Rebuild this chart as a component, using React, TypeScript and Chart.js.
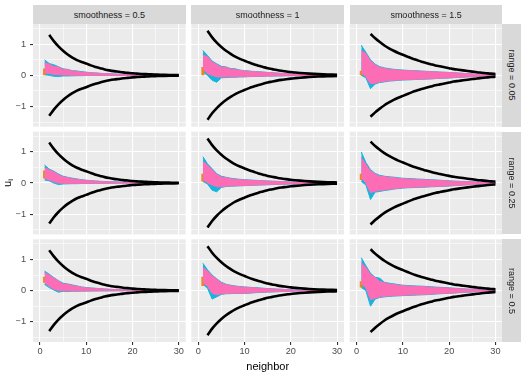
import React, { useEffect, useRef } from "react";
import { Chart, registerables } from "chart.js";
Chart.register(...registerables);

// ---------- data ----------
const colLabels = ["smoothness = 0.5", "smoothness = 1", "smoothness = 1.5"];
const rowLabels = ["range = 0.05", "range = 0.25", "range = 0.5"];
const xTicks = [0, 5, 10, 15, 20, 25, 30];
const yTicks = [-1.5, -1, -0.5, 0, 0.5, 1, 1.5];
const neighbor = [1, 2, 3, 4, 5, 6, 7, 8, 9, 10, 11, 12, 13, 14, 15, 16, 17, 18, 19, 20, 21, 22, 23, 24, 25, 26, 27, 28, 29, 30];

// black bounds (upper), per smoothness column
const boundX12 = [2, 3, 4, 5, 6, 7, 8, 9, 10, 11, 12, 13, 14, 15, 16, 17, 18, 19, 20, 21, 22, 23, 24, 25, 26, 27, 28, 29, 30];
const boundX3 = [3, 4, 5, 6, 7, 8, 9, 10, 11, 12, 13, 14, 15, 16, 17, 18, 19, 20, 21, 22, 23, 24, 25, 26, 27, 28, 29, 30];
const boundS05 = [1.30, 1.10, 0.93, 0.79, 0.67, 0.57, 0.49, 0.43, 0.38, 0.32, 0.27, 0.23, 0.19, 0.16, 0.135, 0.115, 0.095, 0.08, 0.065, 0.055, 0.045, 0.038, 0.03, 0.025, 0.02, 0.016, 0.013, 0.01, 0.008];
const boundS1 = [1.43, 1.22, 1.05, 0.91, 0.79, 0.69, 0.60, 0.53, 0.47, 0.41, 0.36, 0.31, 0.27, 0.23, 0.20, 0.17, 0.145, 0.125, 0.105, 0.09, 0.077, 0.065, 0.055, 0.046, 0.039, 0.033, 0.028, 0.024, 0.02];
const boundS15 = [1.33, 1.19, 1.07, 0.96, 0.87, 0.79, 0.72, 0.66, 0.60, 0.54, 0.49, 0.44, 0.40, 0.36, 0.32, 0.29, 0.26, 0.23, 0.20, 0.18, 0.16, 0.14, 0.12, 0.10, 0.085, 0.07, 0.055, 0.045];

// u_i envelopes per panel (row = range, col = smoothness)
const pinkHi11 = [0.40, 0.36, 0.28, 0.27, 0.18, 0.19, 0.13, 0.13, 0.10, 0.10, 0.075, 0.075, 0.06, 0.055, 0.05, 0.04, 0.035, 0.03, 0.025, 0.02, 0.015, 0.012, 0.01, 0.008, 0.006, 0.005, 0.004, 0.003, 0.002, 0.002];
const pinkLo11 = [0.08, 0.06, 0.03, 0.02, 0.01, 0.01, 0.005, 0.005, 0, 0, 0, 0, 0, 0, 0, 0, 0, 0, 0, 0, 0, 0, 0, 0, 0, 0, 0, 0, 0, 0];
const cyanHi11 = [0.50, 0.38, 0.34, 0.28, 0.21, 0.19, 0.15, 0.14, 0.12, 0.10, 0.085, 0.078, 0.065, 0.058, 0.052, 0.043, 0.037, 0.032, 0.026, 0.021, 0.016, 0.013, 0.01, 0.008, 0.006, 0.005, 0.004, 0.003, 0.002, 0.002];
const cyanLo11 = [0.02, 0.0, -0.03, -0.04, -0.02, -0.02, -0.015, -0.01, -0.01, -0.005, -0.004, -0.003, -0.002, -0.001, 0, 0, 0, 0, 0, 0, 0, 0, 0, 0, 0, 0, 0, 0, 0, 0];
const orange11 = [0.0, 0.22];

const pinkHi12 = [0.65, 0.60, 0.43, 0.35, 0.26, 0.26, 0.20, 0.20, 0.15, 0.145, 0.125, 0.12, 0.105, 0.10, 0.09, 0.08, 0.07, 0.06, 0.05, 0.045, 0.04, 0.035, 0.03, 0.025, 0.02, 0.015, 0.012, 0.01, 0.008, 0.005];
const pinkLo12 = [0.22, 0.05, 0.0, -0.05, -0.05, -0.05, -0.045, -0.05, -0.04, -0.04, -0.035, -0.03, -0.03, -0.025, -0.02, -0.02, -0.015, -0.015, -0.01, -0.01, -0.008, -0.006, -0.005, -0.004, -0.003, -0.002, -0.002, -0.001, -0.001, 0];
const cyanHi12 = [0.80, 0.64, 0.46, 0.37, 0.29, 0.27, 0.22, 0.21, 0.17, 0.15, 0.14, 0.125, 0.115, 0.105, 0.095, 0.085, 0.074, 0.064, 0.054, 0.048, 0.042, 0.037, 0.032, 0.026, 0.021, 0.016, 0.013, 0.011, 0.009, 0.006];
const cyanLo12 = [0.10, 0.0, -0.16, -0.22, -0.08, -0.07, -0.06, -0.06, -0.05, -0.05, -0.04, -0.035, -0.035, -0.03, -0.024, -0.023, -0.018, -0.017, -0.012, -0.011, -0.009, -0.007, -0.006, -0.005, -0.004, -0.003, -0.002, -0.002, -0.001, -0.001];
const orange12 = [0.0, 0.27];

const pinkHi13 = [0.80, 0.70, 0.46, 0.34, 0.25, 0.23, 0.19, 0.185, 0.165, 0.16, 0.145, 0.145, 0.135, 0.13, 0.12, 0.115, 0.105, 0.10, 0.095, 0.09, 0.08, 0.07, 0.06, 0.05, 0.045, 0.035, 0.03, 0.02, 0.015, 0.01];
const pinkLo13 = [0.10, -0.05, -0.27, -0.25, -0.21, -0.19, -0.17, -0.16, -0.15, -0.14, -0.135, -0.13, -0.125, -0.12, -0.115, -0.11, -0.10, -0.09, -0.085, -0.08, -0.07, -0.06, -0.055, -0.045, -0.04, -0.03, -0.025, -0.02, -0.015, -0.01];
const cyanHi13 = [0.97, 0.74, 0.50, 0.36, 0.28, 0.24, 0.215, 0.195, 0.18, 0.17, 0.16, 0.15, 0.147, 0.137, 0.132, 0.122, 0.115, 0.105, 0.10, 0.095, 0.085, 0.075, 0.064, 0.054, 0.048, 0.038, 0.032, 0.022, 0.017, 0.011];
const cyanLo13 = [0.0, -0.08, -0.43, -0.28, -0.23, -0.21, -0.185, -0.175, -0.16, -0.15, -0.145, -0.14, -0.13, -0.127, -0.12, -0.115, -0.105, -0.095, -0.09, -0.085, -0.075, -0.065, -0.058, -0.048, -0.042, -0.032, -0.027, -0.021, -0.016, -0.011];
const orange13 = [0.0, 0.15];

const pinkHi21 = [0.50, 0.42, 0.36, 0.27, 0.20, 0.18, 0.13, 0.125, 0.095, 0.085, 0.07, 0.062, 0.05, 0.045, 0.04, 0.035, 0.03, 0.025, 0.02, 0.015, 0.012, 0.01, 0.008, 0.006, 0.005, 0.004, 0.003, 0.002, 0.002, 0.001];
const pinkLo21 = [0.15, 0.10, 0.04, 0.0, -0.01, -0.01, -0.01, -0.01, -0.01, -0.01, -0.008, -0.006, -0.005, -0.004, -0.003, -0.002, -0.002, -0.001, -0.001, 0, 0, 0, 0, 0, 0, 0, 0, 0, 0, 0];
const cyanHi21 = [0.58, 0.45, 0.38, 0.29, 0.22, 0.185, 0.155, 0.13, 0.11, 0.09, 0.078, 0.067, 0.057, 0.05, 0.045, 0.038, 0.032, 0.027, 0.022, 0.017, 0.013, 0.011, 0.009, 0.007, 0.005, 0.004, 0.003, 0.002, 0.002, 0.001];
const cyanLo21 = [0.10, 0.07, 0.0, -0.05, -0.03, -0.025, -0.02, -0.02, -0.015, -0.015, -0.012, -0.009, -0.007, -0.005, -0.004, -0.003, -0.002, -0.001, -0.001, 0, 0, 0, 0, 0, 0, 0, 0, 0, 0, 0];
const orange21 = [0.15, 0.4];

const pinkHi22 = [0.69, 0.58, 0.42, 0.28, 0.19, 0.175, 0.135, 0.125, 0.105, 0.10, 0.09, 0.08, 0.075, 0.07, 0.06, 0.055, 0.05, 0.04, 0.035, 0.03, 0.025, 0.02, 0.015, 0.012, 0.01, 0.008, 0.006, 0.004, 0.003, 0.002];
const pinkLo22 = [0.12, 0.0, -0.06, -0.12, -0.12, -0.10, -0.09, -0.09, -0.08, -0.08, -0.07, -0.065, -0.06, -0.055, -0.05, -0.045, -0.04, -0.035, -0.03, -0.025, -0.02, -0.015, -0.012, -0.01, -0.008, -0.006, -0.004, -0.003, -0.002, -0.001];
const cyanHi22 = [0.85, 0.62, 0.46, 0.30, 0.22, 0.185, 0.155, 0.135, 0.12, 0.11, 0.10, 0.09, 0.082, 0.075, 0.067, 0.06, 0.055, 0.045, 0.04, 0.034, 0.028, 0.022, 0.017, 0.014, 0.011, 0.009, 0.007, 0.005, 0.0035, 0.0025];
const cyanLo22 = [0.05, -0.03, -0.23, -0.28, -0.14, -0.11, -0.10, -0.095, -0.088, -0.085, -0.075, -0.07, -0.065, -0.06, -0.055, -0.05, -0.045, -0.04, -0.035, -0.028, -0.022, -0.017, -0.014, -0.011, -0.009, -0.007, -0.005, -0.0035, -0.0025, -0.0015];
const orange22 = [0.05, 0.3];

const pinkHi23 = [0.82, 0.60, 0.39, 0.29, 0.22, 0.21, 0.18, 0.175, 0.15, 0.145, 0.125, 0.13, 0.11, 0.115, 0.10, 0.095, 0.09, 0.08, 0.07, 0.06, 0.055, 0.05, 0.045, 0.04, 0.035, 0.03, 0.02, 0.015, 0.01, 0.008];
const pinkLo23 = [0.17, 0.0, -0.31, -0.26, -0.24, -0.22, -0.20, -0.18, -0.165, -0.15, -0.14, -0.135, -0.13, -0.125, -0.12, -0.11, -0.105, -0.10, -0.095, -0.09, -0.08, -0.07, -0.06, -0.05, -0.045, -0.035, -0.03, -0.02, -0.015, -0.01];
const cyanHi23 = [1.0, 0.66, 0.43, 0.31, 0.25, 0.22, 0.20, 0.19, 0.17, 0.155, 0.145, 0.14, 0.13, 0.125, 0.115, 0.107, 0.10, 0.09, 0.08, 0.07, 0.062, 0.057, 0.052, 0.045, 0.04, 0.035, 0.025, 0.018, 0.012, 0.009];
const cyanLo23 = [0.05, -0.06, -0.53, -0.29, -0.27, -0.24, -0.22, -0.195, -0.178, -0.163, -0.152, -0.147, -0.14, -0.135, -0.13, -0.12, -0.115, -0.11, -0.103, -0.095, -0.085, -0.075, -0.065, -0.055, -0.05, -0.04, -0.032, -0.022, -0.017, -0.011];
const orange23 = [0.1, 0.3];

const pinkHi31 = [0.58, 0.50, 0.40, 0.31, 0.21, 0.21, 0.16, 0.145, 0.105, 0.095, 0.075, 0.072, 0.06, 0.05, 0.04, 0.035, 0.03, 0.025, 0.02, 0.015, 0.012, 0.01, 0.008, 0.006, 0.005, 0.004, 0.003, 0.002, 0.002, 0.001];
const pinkLo31 = [0.25, 0.14, 0.05, 0.0, 0.0, -0.01, -0.01, -0.01, -0.01, -0.01, -0.008, -0.006, -0.005, -0.004, -0.003, -0.002, -0.002, -0.001, -0.001, 0, 0, 0, 0, 0, 0, 0, 0, 0, 0, 0];
const cyanHi31 = [0.63, 0.53, 0.42, 0.32, 0.24, 0.215, 0.185, 0.15, 0.12, 0.10, 0.088, 0.075, 0.065, 0.055, 0.045, 0.038, 0.032, 0.027, 0.022, 0.017, 0.014, 0.011, 0.009, 0.007, 0.0055, 0.0045, 0.0035, 0.0025, 0.002, 0.0015];
const cyanLo31 = [0.20, 0.10, 0.02, -0.05, -0.02, -0.03, -0.02, -0.02, -0.015, -0.015, -0.012, -0.009, -0.007, -0.006, -0.005, -0.004, -0.003, -0.002, -0.001, -0.001, 0, 0, 0, 0, 0, 0, 0, 0, 0, 0];
const orange31 = [0.25, 0.45];

const pinkHi32 = [0.74, 0.63, 0.47, 0.37, 0.24, 0.20, 0.155, 0.145, 0.115, 0.115, 0.095, 0.095, 0.075, 0.072, 0.06, 0.05, 0.045, 0.04, 0.03, 0.025, 0.02, 0.015, 0.012, 0.01, 0.008, 0.006, 0.004, 0.003, 0.002, 0.001];
const pinkLo32 = [0.27, 0.14, -0.08, -0.13, -0.10, -0.09, -0.08, -0.08, -0.08, -0.08, -0.07, -0.06, -0.05, -0.045, -0.04, -0.035, -0.03, -0.025, -0.02, -0.015, -0.012, -0.01, -0.008, -0.006, -0.005, -0.004, -0.003, -0.002, -0.001, 0];
const cyanHi32 = [0.88, 0.67, 0.50, 0.38, 0.27, 0.205, 0.175, 0.15, 0.13, 0.12, 0.11, 0.10, 0.09, 0.078, 0.068, 0.058, 0.05, 0.045, 0.035, 0.03, 0.025, 0.018, 0.015, 0.012, 0.009, 0.007, 0.005, 0.0035, 0.0025, 0.0015];
const cyanLo32 = [0.20, 0.08, -0.27, -0.20, -0.12, -0.10, -0.095, -0.09, -0.09, -0.088, -0.08, -0.07, -0.06, -0.052, -0.047, -0.042, -0.035, -0.03, -0.025, -0.018, -0.015, -0.012, -0.0095, -0.0075, -0.006, -0.0045, -0.0035, -0.0025, -0.0015, -0.0005];
const orange32 = [0.15, 0.45];

const pinkHi33 = [0.90, 0.74, 0.52, 0.42, 0.29, 0.26, 0.21, 0.205, 0.17, 0.165, 0.145, 0.145, 0.13, 0.135, 0.12, 0.11, 0.10, 0.095, 0.09, 0.08, 0.07, 0.06, 0.05, 0.045, 0.04, 0.03, 0.025, 0.02, 0.015, 0.01];
const pinkLo33 = [0.25, 0.09, -0.29, -0.24, -0.20, -0.18, -0.17, -0.16, -0.155, -0.15, -0.14, -0.135, -0.13, -0.125, -0.12, -0.11, -0.10, -0.09, -0.085, -0.08, -0.07, -0.06, -0.05, -0.045, -0.04, -0.03, -0.025, -0.02, -0.015, -0.01];
const cyanHi33 = [1.06, 0.80, 0.56, 0.43, 0.40, 0.27, 0.24, 0.22, 0.195, 0.175, 0.165, 0.155, 0.15, 0.145, 0.135, 0.125, 0.115, 0.107, 0.10, 0.09, 0.08, 0.07, 0.06, 0.052, 0.045, 0.035, 0.03, 0.024, 0.017, 0.011];
const cyanLo33 = [0.10, 0.0, -0.50, -0.27, -0.22, -0.20, -0.185, -0.175, -0.168, -0.16, -0.152, -0.147, -0.14, -0.135, -0.13, -0.12, -0.11, -0.10, -0.092, -0.087, -0.077, -0.067, -0.057, -0.05, -0.045, -0.035, -0.03, -0.022, -0.017, -0.011];
const orange33 = [0.1, 0.3];

const bounds = [
  { x: boundX12, y: boundS05 },
  { x: boundX12, y: boundS1 },
  { x: boundX3, y: boundS15 },
];
const panelData = [
  [
    { ph: pinkHi11, pl: pinkLo11, ch: cyanHi11, cl: cyanLo11, or: orange11 },
    { ph: pinkHi12, pl: pinkLo12, ch: cyanHi12, cl: cyanLo12, or: orange12 },
    { ph: pinkHi13, pl: pinkLo13, ch: cyanHi13, cl: cyanLo13, or: orange13 },
  ],
  [
    { ph: pinkHi21, pl: pinkLo21, ch: cyanHi21, cl: cyanLo21, or: orange21 },
    { ph: pinkHi22, pl: pinkLo22, ch: cyanHi22, cl: cyanLo22, or: orange22 },
    { ph: pinkHi23, pl: pinkLo23, ch: cyanHi23, cl: cyanLo23, or: orange23 },
  ],
  [
    { ph: pinkHi31, pl: pinkLo31, ch: cyanHi31, cl: cyanLo31, or: orange31 },
    { ph: pinkHi32, pl: pinkLo32, ch: cyanHi32, cl: cyanLo32, or: orange32 },
    { ph: pinkHi33, pl: pinkLo33, ch: cyanHi33, cl: cyanLo33, or: orange33 },
  ],
];

// ---------- layout ----------
const W = 527, H = 376;
const COL_LEFT = [33, 191.3, 349.7];
const ROW_TOP = [24, 131.7, 239.3];
const PW = 152.7, PH = 102.7;
const YW = 33, XH = 16;
const FONT = "'Liberation Sans', Arial, Helvetica, sans-serif";
const PINK = "#FC6DB6";
const CYAN = "#14B6E0";
const ORANGE = "#E8891E";

Chart.defaults.font.family = FONT;

const bgPlugin = {
  id: "panelBg",
  beforeDraw(chart: any) {
    const { ctx, chartArea: a } = chart;
    ctx.save();
    ctx.fillStyle = "#EBEBEB";
    ctx.fillRect(a.left, a.top, a.right - a.left, a.bottom - a.top);
    ctx.restore();
  },
};

const pts = (xs: number[], ys: number[]) => xs.map((x, i) => ({ x, y: ys[i] }));
const neg = (ys: number[]) => ys.map((v) => -v);

function Panel({ r, c }: { r: number; c: number }) {
  const ref = useRef<HTMLCanvasElement>(null);
  useEffect(() => {
    const isLeft = c === 0;
    const isBottom = r === 2;
    const left = COL_LEFT[c];
    const top = ROW_TOP[r];
    const d = panelData[r][c];
    const b = bounds[c];
    const line = (data: any[], color: string, width: number, order: number, fill: any = false, bg = color) => ({
      data,
      borderColor: color,
      backgroundColor: bg,
      borderWidth: width,
      pointRadius: 0,
      fill,
      order,
      tension: 0,
    });
    const datasets = [
      { ...line(pts(b.x, b.y), "#000000", 2.6, 0), cubicInterpolationMode: "monotone" },
      { ...line(pts(b.x, neg(b.y)), "#000000", 2.6, 0), cubicInterpolationMode: "monotone" },
      line(pts(neighbor, d.ph), PINK, 1, 1, "+1"),
      line(pts(neighbor, d.pl), PINK, 1, 1),
      line([{ x: 1, y: d.or[0] }, { x: 1, y: d.or[1] }], ORANGE, 3, 2),
      line(pts(neighbor, d.ch), CYAN, 1, 3, "+1"),
      line(pts(neighbor, d.cl), CYAN, 1, 3),
    ];
    const chart = new Chart(ref.current as HTMLCanvasElement, {
      type: "line",
      data: { datasets } as any,
      plugins: [bgPlugin],
      options: {
        animation: false,
        responsive: false,
        devicePixelRatio: 1,
        events: [],
        layout: {
          padding: {
            left: left - YW,
            top: top,
            right: W - left - PW,
            bottom: H - top - PH - XH,
          },
        },
        plugins: { legend: { display: false }, tooltip: { enabled: false } },
        scales: {
          x: {
            type: "linear",
            min: -1.5,
            max: 31.5,
            afterFit: (s: any) => { s.height = XH; },
            afterBuildTicks: (s: any) => { s.ticks = xTicks.map((v) => ({ value: v })); },
            border: { display: false },
            grid: {
              color: "#FFFFFF",
              lineWidth: (ctx: any) => (ctx.tick && ctx.tick.value % 10 === 0 ? 1.1 : 0.55),
              drawTicks: true,
              tickLength: 3,
              tickWidth: 1.1,
              tickColor: (ctx: any) => (isBottom && ctx.tick && ctx.tick.value % 10 === 0 ? "#333333" : "rgba(0,0,0,0)"),
            },
            ticks: {
              display: isBottom,
              autoSkip: false,
              maxRotation: 0,
              minRotation: 0,
              padding: 1,
              color: "#4D4D4D",
              font: { family: FONT, size: 9.2 },
              callback: (v: any) => (v % 10 === 0 ? String(v) : ""),
            },
          },
          y: {
            type: "linear",
            min: -1.65,
            max: 1.65,
            afterFit: (s: any) => { s.width = YW; },
            afterBuildTicks: (s: any) => { s.ticks = yTicks.map((v) => ({ value: v })); },
            border: { display: false },
            grid: {
              color: "#FFFFFF",
              lineWidth: (ctx: any) => (ctx.tick && Number.isInteger(ctx.tick.value) ? 1.1 : 0.55),
              drawTicks: true,
              tickLength: 3,
              tickWidth: 1.1,
              tickColor: (ctx: any) => (isLeft && ctx.tick && Number.isInteger(ctx.tick.value) ? "#333333" : "rgba(0,0,0,0)"),
            },
            ticks: {
              display: isLeft,
              autoSkip: false,
              padding: 4,
              color: "#4D4D4D",
              font: { family: FONT, size: 9.2 },
              callback: (v: any) => (Number.isInteger(v) ? (v < 0 ? "\u2212" + Math.abs(v) : String(v)) : ""),
            },
          },
        },
      } as any,
    });
    return () => chart.destroy();
  }, [r, c]);
  return (
    <canvas
      ref={ref}
      width={W}
      height={H}
      style={{ position: "absolute", left: 0, top: 0, width: W, height: H, pointerEvents: "none" }}
    />
  );
}

export default function App() {
  const panels = [];
  for (let r = 0; r < 3; r++) for (let c = 0; c < 3; c++) panels.push(<Panel key={`${r}-${c}`} r={r} c={c} />);
  const stripStyle: React.CSSProperties = {
    position: "absolute",
    background: "#D9D9D9",
    color: "#1A1A1A",
    fontFamily: FONT,
    fontSize: 9,
    display: "flex",
    alignItems: "center",
    justifyContent: "center",
    whiteSpace: "nowrap",
  };
  return (
    <div style={{ position: "fixed", left: 0, top: 0, width: W, height: H, background: "#FFFFFF", overflow: "hidden" }}>
      {panels}
      {colLabels.map((t, c) => (
        <div key={t} style={{ ...stripStyle, left: COL_LEFT[c], top: 5, width: PW, height: 19 }}>{t}</div>
      ))}
      {rowLabels.map((t, r) => (
        <div key={t} style={{ ...stripStyle, left: COL_LEFT[2] + PW, top: ROW_TOP[r], width: 19, height: PH }}>
          <span style={{ transform: "rotate(90deg)", display: "inline-block" }}>{t}</span>
        </div>
      ))}
      <div style={{ position: "absolute", left: 0, width: 16, top: 183 - 10, height: 20, display: "flex", alignItems: "center", justifyContent: "center" }}>
        <span style={{ transform: "rotate(-90deg)", display: "inline-block", fontFamily: FONT, fontSize: 11, color: "#000", whiteSpace: "nowrap" }}>
          u<sub style={{ fontSize: 8, verticalAlign: "-2px" }}>i</sub>
        </span>
      </div>
      <div style={{ position: "absolute", left: COL_LEFT[0], width: COL_LEFT[2] + PW - COL_LEFT[0], top: 359, height: 14, textAlign: "center", fontFamily: FONT, fontSize: 11, color: "#000", lineHeight: "14px" }}>
        neighbor
      </div>
    </div>
  );
}
